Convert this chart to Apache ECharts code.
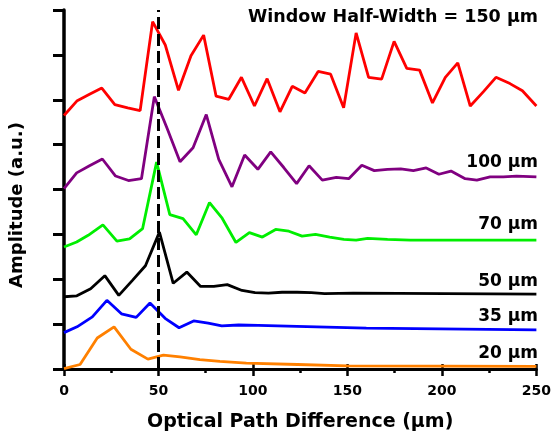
<!DOCTYPE html>
<html>
<head>
<meta charset="utf-8">
<script src="https://cdn.jsdelivr.net/npm/echarts@6/dist/echarts.min.js"></script>
<style>
html,body{margin:0;padding:0;background:#fff;}
#c{width:554px;height:437px;}
</style>
</head>
<body>
<div id="c"></div>
<script>
// ---- data ----
const xTicks = [0, 50, 100, 150, 200, 250];

const redX = [0,7.0,13.5,20.0,26.9,33.7,40.3,46.9,53.6,60.6,67.2,73.9,80.5,87.2,93.9,100.8,107.5,114.3,120.8,127.5,134.5,141.1,148.0,154.6,161.2,168.1,174.7,181.4,188.2,195.0,201.8,208.4,215.0,222.0,228.6,236.0,242.6,250];
const redY = [5.65,5.98,6.12,6.26,5.89,5.82,5.76,7.74,7.22,6.21,6.98,7.44,6.08,6.01,6.50,5.86,6.47,5.73,6.30,6.15,6.63,6.57,5.82,7.49,6.50,6.46,7.30,6.70,6.66,5.93,6.50,6.82,5.86,6.18,6.50,6.36,6.20,5.86];

const purpleX = [0,6.7,13.5,20.3,27.3,34.1,41.0,47.8,54.6,61.4,68.3,75.3,81.9,88.9,95.6,102.6,109.4,116.3,123.1,129.7,136.7,144.1,150.7,157.6,164.2,171.2,178.2,184.9,191.7,198.4,204.8,212.3,218.5,225.5,232.5,239.5,250];
const purpleY = [4.02,4.37,4.53,4.68,4.30,4.20,4.24,6.07,5.36,4.62,4.93,5.67,4.67,4.06,4.77,4.45,4.84,4.49,4.13,4.53,4.21,4.27,4.24,4.54,4.42,4.45,4.46,4.42,4.48,4.34,4.41,4.24,4.21,4.28,4.28,4.30,4.28];

const greenX = [0,6.7,12.8,20.6,28.0,34.7,41.6,49.0,56.0,63.0,70.0,77.0,83.7,91.0,98.1,105.0,112.0,119.0,126.0,133.1,140.6,148.1,154.6,160.7,171.2,183.3,199.1,250];
const greenY = [2.72,2.83,2.98,3.21,2.85,2.90,3.13,4.61,3.44,3.35,2.99,3.71,3.36,2.82,3.04,2.94,3.11,3.07,2.96,3.00,2.94,2.89,2.87,2.91,2.89,2.87,2.87,2.87];

const blackX = [0,6.8,14.1,21.6,29.0,36.1,43.1,50.5,57.8,65.0,72.3,79.3,86.4,94.2,101.1,108.2,115.4,123.4,130.9,137.9,153.0,250];
const blackY = [1.61,1.63,1.79,2.08,1.64,1.97,2.30,3.05,1.91,2.16,1.84,1.84,1.88,1.75,1.70,1.69,1.71,1.71,1.70,1.68,1.69,1.67];

const blueX = [0,6.9,15.0,22.7,30.4,38.2,45.5,53.5,60.9,68.6,76.3,83.5,92.4,102.9,123.3,160,250];
const blueY = [0.81,0.94,1.16,1.53,1.23,1.15,1.47,1.13,0.92,1.07,1.02,0.96,0.98,0.97,0.95,0.91,0.87];

const orangeX = [0,8.5,17.6,26.5,35.4,44.4,52.6,61.4,71.9,82.5,96.5,123.6,150,250];
const orangeY = [0.01,0.10,0.69,0.94,0.44,0.22,0.31,0.27,0.21,0.17,0.13,0.10,0.07,0.06];

const markerX = 50;
const seriesNames = ['150 μm', '100 μm', '70 μm', '50 μm', '35 μm', '20 μm'];
const labelTexts = ['Window Half-Width = 150 μm', '100 μm', '70 μm', '50 μm', '35 μm', '20 μm'];
const xName = 'Optical Path Difference (μm)';
const yName = 'Amplitude (a.u.)';

// ---- chart ----
const FONT = "'DejaVu Sans', sans-serif";
const zip = (xs, ys) => xs.map((x, i) => [x, ys[i]]);
const colors = ['#ff0000', '#800080', '#00ee00', '#000000', '#0000ff', '#ff8000'];
const allData = [
  zip(redX, redY), zip(purpleX, purpleY), zip(greenX, greenY),
  zip(blackX, blackY), zip(blueX, blueY), zip(orangeX, orangeY)
];

const chart = echarts.init(document.getElementById('c'), null, {renderer: 'canvas'});

const series = allData.map((d, i) => ({
  name: seriesNames[i],
  type: 'line',
  data: d,
  showSymbol: false,
  symbol: 'none',
  lineStyle: {color: colors[i], width: 2.8},
  z: 2
}));
series.push({
  type: 'line',
  data: [],
  z: 5,
  markLine: {
    silent: true,
    symbol: ['none', 'none'],
    label: {show: false},
    lineStyle: {color: '#000', width: 3, type: [12, 5]},
    data: [{xAxis: markerX}]
  }
});

const labelPos = [
  {y: 19, size: 17.5},
  {y: 164.5, size: 17},
  {y: 226.5, size: 17},
  {y: 283, size: 17},
  {y: 318.5, size: 17},
  {y: 355, size: 17}
];

const graphics = labelTexts.map((t, i) => ({
  type: 'text',
  right: 16,
  top: labelPos[i].y - labelPos[i].size * 0.6,
  style: {text: t, font: 'bold ' + labelPos[i].size + 'px ' + FONT, fill: '#000'},
  z: 10
}));
graphics.push({
  type: 'text',
  x: 17.5, y: 205,
  rotation: Math.PI / 2,
  style: {text: yName, font: 'bold 18px ' + FONT, fill: '#000', align: 'center', verticalAlign: 'middle'},
  z: 10
});

chart.setOption({
  animation: false,
  backgroundColor: '#fff',
  grid: {left: 64, right: 14, top: 10, bottom: 66, containLabel: false},
  xAxis: [{
    type: 'value', min: 0, max: 250, interval: 50,
    name: xName, nameLocation: 'middle', nameGap: 44,
    nameTextStyle: {fontFamily: FONT, fontWeight: 'bold', fontSize: 19, color: '#000'},
    axisLine: {show: true, onZero: false, lineStyle: {color: '#000', width: 3}},
    axisTick: {show: true, inside: false, length: 7, lineStyle: {color: '#000', width: 2.5}},
    minorTick: {show: true, splitNumber: 2, length: 4, lineStyle: {color: '#000', width: 2.5}},
    axisLabel: {fontFamily: FONT, fontWeight: 'bold', fontSize: 14, color: '#000', margin: 15,
      formatter: v => xTicks.indexOf(v) >= 0 ? String(v) : ''},
    splitLine: {show: false}
  }, {
    type: 'value', min: 0, max: 250, interval: 50, position: 'bottom',
    axisLine: {show: false},
    axisTick: {show: true, inside: true, length: 5, lineStyle: {color: '#000', width: 2.5}},
    axisLabel: {show: false},
    splitLine: {show: false}
  }],
  yAxis: {
    type: 'value', min: 0, max: 8, interval: 1,
    axisLine: {show: true, onZero: false, lineStyle: {color: '#000', width: 3.5}},
    axisTick: {show: true, inside: false, length: 11, lineStyle: {color: '#000', width: 3}},
    axisLabel: {show: false},
    splitLine: {show: false}
  },
  series: series,
  graphic: graphics
});
</script>
</body>
</html>
